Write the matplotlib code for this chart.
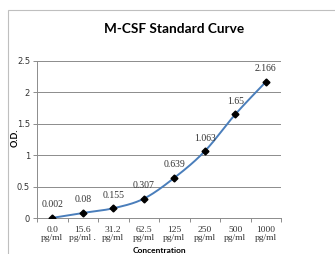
import numpy as np
import matplotlib
matplotlib.use('Agg')
import matplotlib.pyplot as plt
from matplotlib.patches import Rectangle

concentrations = ['0.0', '15.6', '31.2', '62.5', '125', '250', '500', '1000']
units = ['pg/ml', 'pg/ml .', 'pg/ml', 'pg/ml', 'pg/ml', 'pg/ml', 'pg/ml', 'pg/ml']
od_values = [0.002, 0.08, 0.155, 0.307, 0.639, 1.063, 1.65, 2.166]
od_labels = ['0.002', '0.08', '0.155', '0.307', '0.639', '1.063', '1.65', '2.166']
y_ticks = [0, 0.5, 1, 1.5, 2, 2.5]
y_tick_labels = ['0', '0.5', '1', '1.5', '2', '2.5']

LINE_COLOR = '#4A7EBB'
GRID_COLOR = '#8C8C8C'


def smooth_curve(x, y, n=30):
    # excel-like smoothed line (catmull-rom through the points)
    x = np.asarray(x, float)
    y = np.asarray(y, float)
    px = np.concatenate([[x[0]], x, [x[-1]]])
    py = np.concatenate([[y[0]], y, [y[-1]]])
    xs, ys = [], []
    t = np.linspace(0, 1, n)
    for i in range(1, len(px) - 2):
        for arr, out in ((px, xs), (py, ys)):
            p0, p1, p2, p3 = arr[i - 1], arr[i], arr[i + 1], arr[i + 2]
            seg = 0.5 * ((2 * p1) + (-p0 + p2) * t +
                         (2 * p0 - 5 * p1 + 4 * p2 - p3) * t ** 2 +
                         (-p0 + 3 * p1 - 3 * p2 + p3) * t ** 3)
            out.extend(seg)
    return np.array(xs), np.array(ys)


fig = plt.figure(figsize=(3.35, 2.54), dpi=100)
fig.patches.append(Rectangle((8 / 335, -0.2), 1.0, 1.2 - 9.5 / 254,
                             transform=fig.transFigure, fill=False,
                             edgecolor='#BFBFBF', linewidth=0.8))

ax = fig.add_axes([37 / 335, 1 - 218 / 254, 244 / 335, 157 / 254])
xpos = np.arange(len(concentrations))

sx, sy = smooth_curve(xpos, od_values)
ax.plot(sx, sy, color=LINE_COLOR, linewidth=1.4, zorder=3)
ax.plot(xpos, od_values, linestyle='none', marker='D', markersize=3.5,
        color='black', zorder=4)

for x, y, lab in zip(xpos, od_values, od_labels):
    ax.annotate(lab, (x, y), xytext=(0, 9.5), textcoords='offset points',
                ha='center', va='center', fontsize=7,
                family='Liberation Serif', color='#333333')

ax.set_xlim(-0.5, len(concentrations) - 0.5)
ax.set_ylim(0, 2.5)
ax.set_yticks(y_ticks)
ax.set_yticklabels(y_tick_labels, fontsize=6, color='#333333')
ax.yaxis.grid(True, color=GRID_COLOR, linewidth=0.7)
ax.set_axisbelow(True)

ax.set_xticks(xpos)
ax.set_xticklabels([c + '\n' + u for c, u in zip(concentrations, units)],
                   fontsize=6.8, family='Liberation Serif', color='#333333',
                   linespacing=1.0)
ax.set_xticks(np.arange(-0.5, len(concentrations)), minor=True)
ax.tick_params(axis='x', which='major', length=0, pad=6)
ax.tick_params(axis='x', which='minor', length=3, color=GRID_COLOR, width=0.7)
ax.tick_params(axis='y', length=3, color=GRID_COLOR, width=0.7, pad=2)

for side in ['top', 'right']:
    ax.spines[side].set_visible(False)
ax.spines['left'].set_color(GRID_COLOR)
ax.spines['left'].set_linewidth(0.7)
ax.spines['bottom'].set_color(GRID_COLOR)
ax.spines['bottom'].set_linewidth(0.7)

fig.text(174 / 335, 1 - 29 / 254, 'M-CSF Standard Curve', ha='center',
         va='center', fontsize=9.8, fontweight='bold', family='Lato')
fig.text(15 / 335, 1 - 138 / 254, 'O.D.', rotation=90, ha='center',
         va='center', fontsize=6.5, fontweight='bold', family='Lato')
fig.text(159 / 335, 0.2 / 254, 'Concentration', ha='center', va='bottom',
         fontsize=6, fontweight='bold', family='Lato')

fig.savefig('out.png', dpi=100)
